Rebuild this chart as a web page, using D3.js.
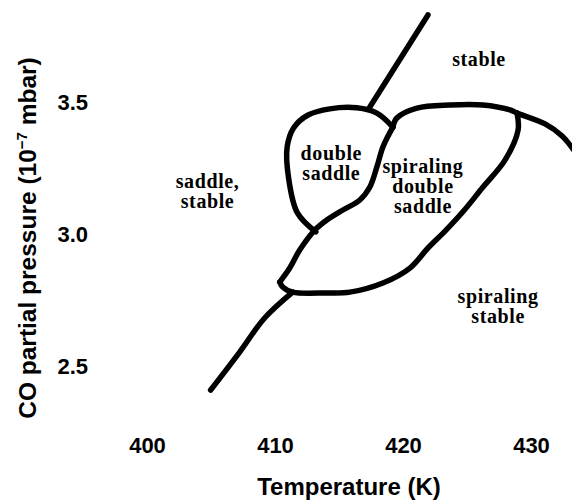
<!DOCTYPE html>
<html>
<head>
<meta charset="utf-8">
<script src="https://cdn.jsdelivr.net/npm/d3@7"></script>
<style>
  html, body { margin: 0; padding: 0; background: #fff; }
  svg { display: block; }
</style>
</head>
<body>
<svg id="chart" width="572" height="501"></svg>
<script>
// ---- data (Temperature K, CO partial pressure 1e-7 mbar) ----
const xTicks = [400, 410, 420, 430];
const yTicks = [2.5, 3.0, 3.5];
const xTitle = "Temperature (K)";
const yTitleMain = "CO partial pressure (10";
const yTitleSup = "−7";
const yTitleEnd = " mbar)";

// main saddle-node line, lower branch (to the loop)
const lowerLine = [[404.97,2.407],[407.24,2.551],[409.19,2.680],[411.38,2.778]];
// upper branch of the line above the double-saddle loop
const upperLine = [[417.41,3.479],[421.95,3.828]];
// double saddle closed region boundary (left)
const doubleSaddleLoop = [[413.19,3.006],[411.75,3.078],[411.05,3.214],[410.95,3.328],[411.45,3.400],
  [412.55,3.448],[414.28,3.472],[416.39,3.476],[417.96,3.456],[419.21,3.403]];
// spiraling double saddle region: left boundary (from top-left junction to lower-left corner)
const loopLeft = [[419.21,3.403],[418.43,3.328],[417.96,3.252],[417.41,3.176],[416.63,3.127],
  [415.30,3.089],[414.05,3.051],[413.11,3.013],[411.93,2.9375],[411.15,2.869],[410.37,2.816]];
// top boundary continuing to the right edge
const loopTop = [[419.21,3.403],[419.52,3.4375],[421.09,3.475],[423.67,3.487],[426.25,3.487],
  [428.36,3.468],[428.91,3.456],[431.10,3.415],[432.43,3.369],[433.45,3.309]];
// right and bottom boundary, from top-right junction to lower-left corner
const loopRight = [[428.91,3.456],[428.99,3.392],[427.97,3.278],[426.25,3.176],[424.80,3.089],
  [423.36,3.013],[421.95,2.945],[420.54,2.869],[418.43,2.8125],[415.85,2.778],[414.05,2.775],
  [411.38,2.778],[410.60,2.797],[410.37,2.816]];

const curves = [lowerLine, upperLine, doubleSaddleLoop, loopLeft, loopTop, loopRight];

// region labels: text lines and anchor (T, P of first baseline)
const regionLabels = [
  {lines: ["stable"], T: 425.94, P: 3.634},
  {lines: ["double", "saddle"], T: 414.40, P: 3.278},
  {lines: ["saddle,", "stable"], T: 404.73, P: 3.172},
  {lines: ["spiraling", "double", "saddle"], T: 421.56, P: 3.229},
  {lines: ["spiraling", "stable"], T: 427.43, P: 2.737}
];

// ---- drawing ----
const svg = d3.select("#chart");
const x = d3.scaleLinear().domain([400, 430]).range([147, 531]);
const y = d3.scaleLinear().domain([2.5, 3.5]).range([365.5, 101.5]);

const line = d3.line().x(d => x(d[0])).y(d => y(d[1])).curve(d3.curveCatmullRom.alpha(0.5));

svg.append("defs").append("clipPath").attr("id", "clip")
  .append("rect").attr("x", 0).attr("y", 0).attr("width", 572).attr("height", 501);

svg.append("g").attr("clip-path", "url(#clip)")
  .selectAll("path").data(curves).join("path")
  .attr("d", line)
  .attr("fill", "none")
  .attr("stroke", "#000")
  .attr("stroke-width", 5.5)
  .attr("stroke-linecap", "round")
  .attr("stroke-linejoin", "round");

const sans = "'Liberation Sans', Arial, Helvetica, sans-serif";

// axes (labels only, no domain lines or ticks)
const xAxis = d3.axisBottom(x).tickValues(xTicks).tickSize(0).tickPadding(0).tickFormat(d3.format("d"));
const gx = svg.append("g").attr("transform", "translate(0,437)").call(xAxis);
gx.select(".domain").remove();
gx.selectAll("text").attr("font-family", sans)
  .attr("font-weight", "bold").attr("font-size", 22).attr("fill", "#000").attr("dy", "0.71em");

const yAxis = d3.axisLeft(y).tickValues(yTicks).tickSize(0).tickPadding(0).tickFormat(d3.format(".1f"));
const gy = svg.append("g").attr("transform", "translate(88,0)").call(yAxis);
gy.select(".domain").remove();
gy.selectAll("text").attr("font-family", sans)
  .attr("font-weight", "bold").attr("font-size", 22).attr("fill", "#000").attr("dy", "0.36em");

svg.append("text")
  .attr("x", 349).attr("y", 495)
  .attr("text-anchor", "middle")
  .attr("font-family", sans)
  .attr("font-weight", "bold").attr("font-size", 24)
  .text(xTitle);

const yt = svg.append("text")
  .attr("transform", "translate(36,238) rotate(-90)")
  .attr("text-anchor", "middle")
  .attr("font-family", sans)
  .attr("font-weight", "bold").attr("font-size", 24.5);
yt.append("tspan").text(yTitleMain);
yt.append("tspan").attr("font-size", 15).attr("dy", -9).text(yTitleSup);
yt.append("tspan").attr("dy", 9).text(yTitleEnd);

// region labels
const lbl = svg.append("g").selectAll("text").data(regionLabels).join("text")
  .attr("text-anchor", "middle")
  .attr("font-family", "'Liberation Serif', 'Times New Roman', serif")
  .attr("font-weight", "bold").attr("font-size", 20)
  .attr("letter-spacing", 0.6)
  .attr("fill", "#000");
lbl.each(function(d) {
  const t = d3.select(this);
  d.lines.forEach((s, i) => {
    t.append("tspan").attr("x", x(d.T)).attr("y", y(d.P) + i * 20).text(s);
  });
});
</script>
</body>
</html>
